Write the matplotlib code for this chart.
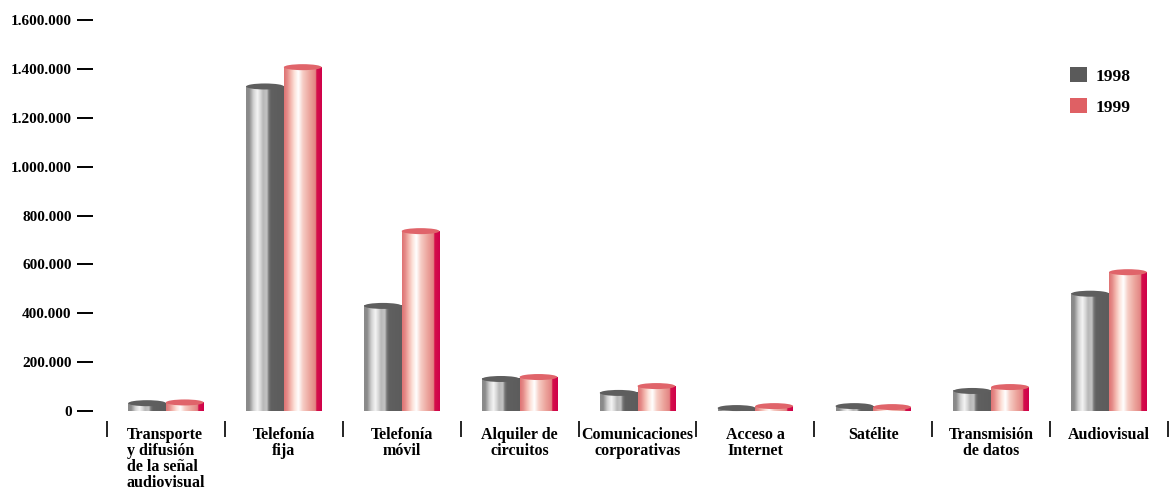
import numpy as np
import matplotlib
matplotlib.use("Agg")
import matplotlib.pyplot as plt
from matplotlib.patches import Ellipse, Patch
from matplotlib.colors import to_rgb

# data
categorias = ["Transporte\ny difusión\nde la señal\naudiovisual", "Telefonía\nfija",
              "Telefonía\nmóvil", "Alquiler de\ncircuitos", "Comunicaciones\ncorporativas",
              "Acceso a\nInternet", "Satélite", "Transmisión\nde datos", "Audiovisual"]
v1998 = [32000, 1328000, 430000, 131000, 74000, 12000, 20000, 82000, 480000]
v1999 = [35000, 1407000, 736000, 139000, 102000, 20000, 16000, 98000, 568000]
series = ["1998", "1999"]
yticks = [0, 200000, 400000, 600000, 800000, 1000000, 1200000, 1400000, 1600000]

fuente = "Liberation Serif"

def gradiente(stops, n=120):
    pos = np.array([s[0] for s in stops])
    cols = np.array([to_rgb(s[1]) for s in stops])
    t = np.linspace(0, 1, n)
    return np.stack([np.interp(t, pos, cols[:, k]) for k in range(3)], axis=1)

grad_gris = gradiente([(0, "#8a8a8a"), (0.08, "#8a8a8a"), (0.12, "#a4a4a4"), (0.2, "#d4d4d4"),
                       (0.3, "#f4f4f4"), (0.38, "#d8d8d8"), (0.45, "#b8b8b8"), (0.55, "#c4c4c4"),
                       (0.6, "#7a7a7a"), (0.66, "#606060"), (1, "#5c5c5c")])
grad_rojo = gradiente([(0, "#e07474"), (0.08, "#e48a88"), (0.16, "#f2b0a8"), (0.28, "#fde4dc"),
                       (0.38, "#ffffff"), (0.5, "#f6ccc4"), (0.68, "#eca49c"), (0.84, "#e28282"),
                       (0.86, "#d4104a"), (1, "#d0004a")])
tapa = ["#5e5e5e", "#e0646a"]
leyenda = ["#5a5a5a", "#df6064"]

fig = plt.figure(figsize=(11.71, 4.98), dpi=100)
ax = fig.add_axes([107 / 1171, 87 / 498, 1061 / 1171, 391 / 498])

w = 0.32
cap_h = 6 * 1.6e6 / 391
x = np.arange(len(categorias))
for i, xc in enumerate(x):
    for j, (vals, grad) in enumerate([(v1998, grad_gris), (v1999, grad_rojo)]):
        x0 = xc - w + j * w
        v = vals[i]
        ax.imshow(grad[np.newaxis, :, :], extent=[x0, x0 + w, 0, v], aspect="auto",
                  interpolation="bilinear", zorder=2)
        ax.add_patch(Ellipse((x0 + w / 2, v), w, cap_h, facecolor=tapa[j],
                             edgecolor="none", zorder=3, clip_on=False))

ax.set_xlim(-0.5, len(categorias) - 0.5)
ax.set_ylim(0, 1.6e6)

for s in ax.spines.values():
    s.set_visible(False)
ax.spines["left"].set_position(("outward", 10))
ax.spines["bottom"].set_position(("outward", 7.2))

ax.set_yticks(yticks)
ax.set_yticklabels([f"{t:,}".replace(",", ".") for t in yticks])
ax.tick_params(axis="y", length=11.5, width=1.4, pad=4, color="black")
for lab in ax.get_yticklabels():
    lab.set_fontfamily(fuente)
    lab.set_fontweight("bold")
    lab.set_fontsize(11)

ax.set_xticks(x)
ax.set_xticklabels(categorias)
ax.set_xticks(np.arange(len(categorias) + 1) - 0.5, minor=True)
ax.tick_params(axis="x", which="major", length=0, pad=4.5)
ax.tick_params(axis="x", which="minor", length=11.5, width=1.2, direction="out")
for k, lab in enumerate(ax.get_xticklabels()):
    lab.set_fontfamily(fuente)
    lab.set_fontweight("bold")
    lab.set_fontsize(11.5)
    lab.set_linespacing(1.0)
    lab.set_multialignment("left" if k == 0 else "center")

handles = [Patch(facecolor=c, edgecolor="none") for c in leyenda]
leg = fig.legend(handles, series, loc="upper left", bbox_to_anchor=(1070 / 1171, 1 - 67 / 498),
                 frameon=False, borderpad=0, borderaxespad=0, handlelength=0.96,
                 handleheight=0.96, handletextpad=0.5, labelspacing=0.8,
                 prop={"family": fuente, "weight": "bold", "size": 12.5})

fig.savefig("out.png", dpi=100)
